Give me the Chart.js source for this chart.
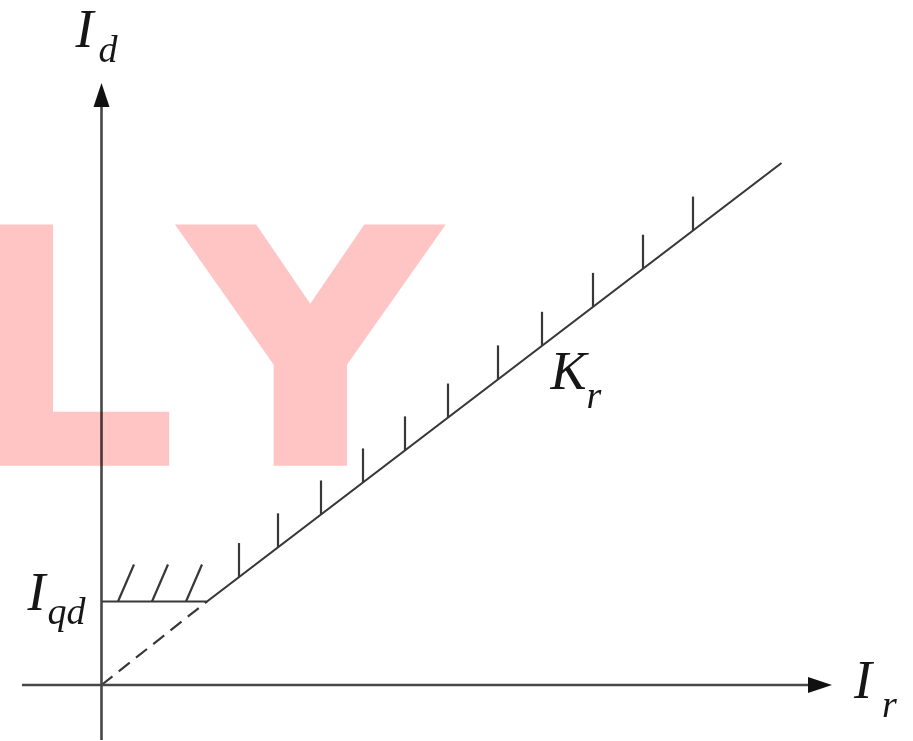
<!DOCTYPE html>
<html>
<head>
<meta charset="utf-8">
<title>Differential protection characteristic</title>
<script src="https://cdn.jsdelivr.net/npm/chart.js@4.4.1/dist/chart.umd.min.js"></script>
<style>
  html, body { margin: 0; padding: 0; background: #ffffff; }
  #wrap { width: 913px; height: 741px; }
</style>
</head>
<body>
<div id="wrap"><canvas id="chart" width="913" height="741"></canvas></div>
<script>
// Axis extents (per-unit current)
const irAxis = [-0.795, 7.305];   // restraint current Ir, left end .. arrow tip
const idAxis = [-0.55, 6.02];     // differential current Id, bottom end .. arrow tip

// Operating characteristic: pickup plateau, then restraint slope Kr
const charIr = [0, 1.055, 6.8];
const charId = [0.835, 0.835, 5.22];
const Iqd = charId[0];
const Kr = (charId[2] - charId[1]) / (charIr[2] - charIr[1]);

// Extension of the slope back to the origin (dashed)
const dashIr = [0, 1.055];
const dashId = [0, 0.835];

// Hatch marks on the operating side
const slopeTickIr = [1.375, 1.765, 2.195, 2.615, 3.035, 3.465, 3.965, 4.405, 4.915, 5.415, 5.915];
const slopeTickLen = 0.34;
const plateauHatchIr = [0.165, 0.505, 0.845];
const plateauHatchDir = [0.16, 0.37];

const charAt = ir => ir <= charIr[1] ? Iqd : Iqd + Kr * (ir - charIr[1]);

const lineStyle = (color, width, extra) => Object.assign({
  showLine: true, pointRadius: 0, pointHoverRadius: 0,
  borderColor: color, borderWidth: width, fill: false, tension: 0
}, extra || {});

const datasets = [];
// axes
datasets.push(lineStyle('#474747', 2.6, { data: [{x: irAxis[0], y: 0}, {x: irAxis[1] - 0.1, y: 0}] }));
datasets.push(lineStyle('#474747', 2.6, { data: [{x: 0, y: idAxis[0]}, {x: 0, y: idAxis[1] - 0.1}] }));
// characteristic
datasets.push(lineStyle('#383838', 2.2, { data: charIr.map((v, i) => ({x: v, y: charId[i]})) }));
datasets.push(lineStyle('#383838', 2.2, { borderDash: [14, 8], data: dashIr.map((v, i) => ({x: v, y: dashId[i]})) }));
// ticks along the slope
slopeTickIr.forEach(ir => {
  const base = charAt(ir);
  datasets.push(lineStyle('#383838', 2.2, { data: [{x: ir, y: base}, {x: ir, y: base + slopeTickLen}] }));
});
// hatches on the plateau
plateauHatchIr.forEach(ir => {
  datasets.push(lineStyle('#383838', 2.2, { data: [{x: ir, y: Iqd}, {x: ir + plateauHatchDir[0], y: Iqd + plateauHatchDir[1]}] }));
});

function drawArrow(ctx, tx, ty, dir) {
  const len = 24, half = 8;
  ctx.beginPath();
  if (dir === 'up') {
    ctx.moveTo(tx, ty); ctx.lineTo(tx - half, ty + len); ctx.lineTo(tx + half, ty + len);
  } else {
    ctx.moveTo(tx, ty); ctx.lineTo(tx - len, ty - half); ctx.lineTo(tx - len, ty + half);
  }
  ctx.closePath();
  ctx.fillStyle = '#111111';
  ctx.fill();
}

function subLabel(ctx, main, sub, px, py, m, s) {
  ctx.fillStyle = '#161616';
  ctx.textAlign = 'left';
  ctx.textBaseline = 'alphabetic';
  ctx.font = 'italic 54px "Liberation Serif", "DejaVu Serif", serif';
  ctx.fillText(main, px + m[0], py + m[1]);
  ctx.font = 'italic 38px "Liberation Serif", "DejaVu Serif", serif';
  ctx.fillText(sub, px + s[0], py + s[1]);
}

// Heavy watermark glyph fitted to a box; the outline stroke adds weight
function fitGlyph(g, ch, l, t, r, b) {
  const pad = 4.5;
  g.save();
  g.font = 'bold 200px "DejaVu Sans", sans-serif';
  g.textAlign = 'left';
  g.textBaseline = 'alphabetic';
  const m = g.measureText(ch);
  const w = m.actualBoundingBoxLeft + m.actualBoundingBoxRight;
  const h = m.actualBoundingBoxAscent + m.actualBoundingBoxDescent;
  const sx = (r - l - 2 * pad) / w, sy = (b - t - 2 * pad) / h;
  g.translate(l + pad, t + pad);
  g.scale(sx, sy);
  g.fillStyle = 'rgb(255, 196, 196)';
  g.strokeStyle = 'rgb(255, 196, 196)';
  g.lineJoin = 'miter';
  g.lineWidth = 2 * pad / ((sx + sy) / 2);
  g.fillText(ch, m.actualBoundingBoxLeft, m.actualBoundingBoxAscent);
  g.strokeText(ch, m.actualBoundingBoxLeft, m.actualBoundingBoxAscent);
  g.restore();
}

function drawWatermark(ctx, width, height) {
  const layer = document.createElement('canvas');
  layer.width = width; layer.height = height;
  const g = layer.getContext('2d');
  g.fillStyle = '#ffffff';
  g.fillRect(0, 0, width, height);
  fitGlyph(g, 'L', -23, 224, 169, 466);
  fitGlyph(g, 'Y', 179, 224, 442, 466);
  ctx.save();
  ctx.globalCompositeOperation = 'multiply';
  ctx.drawImage(layer, 0, 0);
  ctx.restore();
}

const annotations = {
  id: 'annotations',
  afterDatasetsDraw(chart) {
    const { ctx, scales: { x, y } } = chart;
    ctx.save();
    const ox = x.getPixelForValue(0), oy = y.getPixelForValue(0);
    const topY = y.getPixelForValue(idAxis[1]);
    const rightX = x.getPixelForValue(irAxis[1]);
    drawArrow(ctx, ox, topY, 'up');
    drawArrow(ctx, rightX, oy, 'right');

    // axis and characteristic labels
    subLabel(ctx, 'I', 'd', ox, topY, [-26, -36], [-3, -21]);
    subLabel(ctx, 'I', 'r', rightX, oy, [22, 13], [50, 32]);
    subLabel(ctx, 'I', 'qd', ox, y.getPixelForValue(Iqd), [-74, 8], [-54, 22]);
    const kx = x.getPixelForValue(4.4), ky = y.getPixelForValue(charAt(4.4));
    subLabel(ctx, 'K', 'r', kx, ky, [9, 43], [45, 62]);
    ctx.restore();

    drawWatermark(ctx, chart.width, chart.height);
  }
};

new Chart(document.getElementById('chart'), {
  type: 'scatter',
  data: { datasets },
  options: {
    responsive: false,
    animation: false,
    layout: { padding: 0 },
    plugins: { legend: { display: false }, tooltip: { enabled: false } },
    scales: {
      x: { type: 'linear', display: false, min: -1.015, max: 8.115 },
      y: { type: 'linear', display: false, min: -0.56, max: 6.85 }
    },
    elements: { line: { borderCapStyle: 'butt' } }
  },
  plugins: [annotations]
});
</script>
</body>
</html>
